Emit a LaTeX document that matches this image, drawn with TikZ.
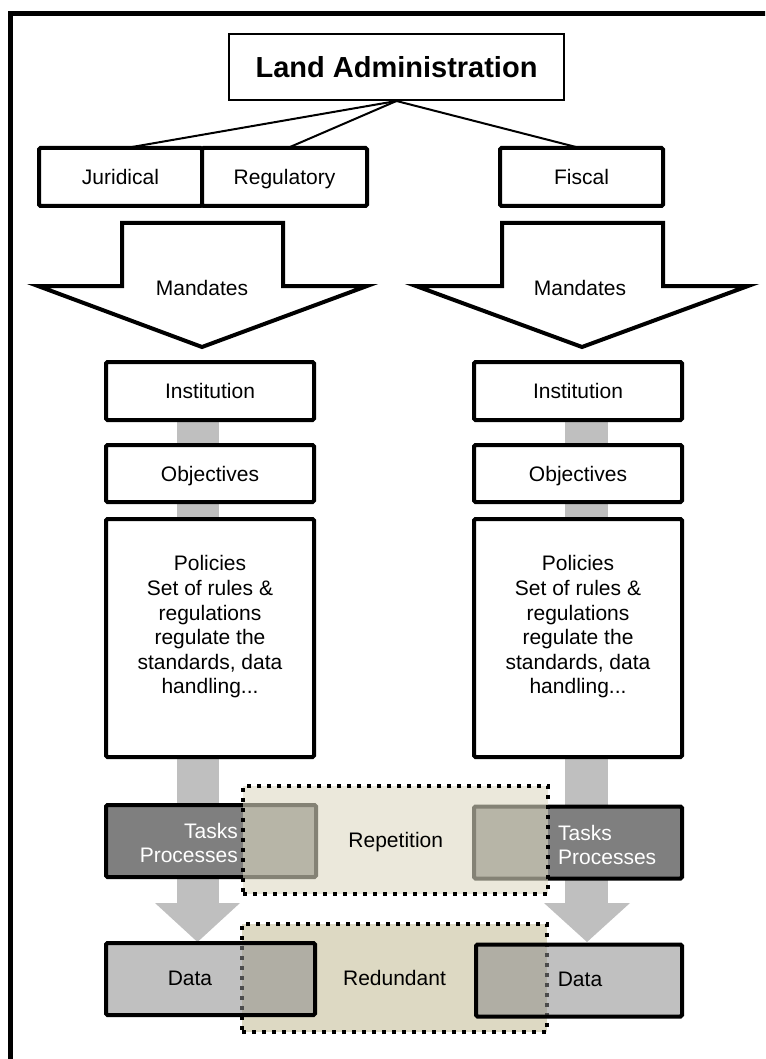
\documentclass[tikz,border=0pt]{standalone}
\usepackage{fontspec}
\setmainfont{Liberation Sans}
\definecolor{arrowgray}{HTML}{BFBFBF}
\definecolor{taskgray}{HTML}{7F7F7F}
\definecolor{tan}{HTML}{DDD9C3}
\definecolor{datagray}{HTML}{8C8C8C}
\begin{document}
\begin{tikzpicture}[x=1pt,y=-1pt,
  bodyfont/.style={font=\fontsize{21}{24.6}\selectfont},
  oneline/.style={text height=15.3pt, text depth=0pt},
  wbox/.style={draw, line width=4pt, fill=white, inner sep=0pt, rounded corners=1.5pt,
    minimum width=208pt, minimum height=58pt, align=center, bodyfont, oneline},
  topbox/.style={wbox, minimum width=164pt},
  taskbox/.style={draw, line width=4pt, fill=taskgray, inner sep=0pt, rounded corners=1.5pt,
    minimum width=209pt, minimum height=72pt},
  databox/.style={draw, line width=4pt, fill=datagray, fill opacity=0.55, draw opacity=1,
    inner sep=0pt, rounded corners=1.5pt, minimum width=208pt, minimum height=72pt},
  overlay/.style={draw, line width=4pt, dash pattern=on 4pt off 6pt, inner sep=0pt,
    minimum width=305pt, minimum height=108pt},
  conn/.style={line width=2pt},
  mandate/.style={draw, line width=4pt, fill=white, line join=miter},
  label/.style={inner sep=0pt, bodyfont},
]
\useasboundingbox (0,0) rectangle (765,1059);
\begin{scope}
\clip (0,0) rectangle (765,1059);
\draw[line width=5pt] (10.5,1100) -- (10.5,13.5) -- (800,13.5);
\end{scope}

% top level
\node[draw, line width=2pt, inner sep=0pt, minimum width=335pt, minimum height=66pt,
  font=\fontsize{29}{32}\selectfont\bfseries, text height=21pt, text depth=0pt] (la) at (396.5,67) {Land Administration};
\node[topbox, minimum width=163pt] (jur) at (120.5,177) {Juridical};
\node[topbox, minimum width=165pt] (reg) at (284.5,177) {Regulatory};
\node[topbox, minimum width=163pt] (fis) at (581.5,177) {Fiscal};
\coordinate (jurtop) at (132,147);
\coordinate (regtop) at (290,147);
\coordinate (fistop) at (576,147);
\draw[conn] (la.south) -- (jurtop);
\draw[conn] (la.south) -- (regtop);
\draw[conn] (la.south) -- (fistop);

% mandates arrows
\draw[mandate] (122,223) -- (283,223) -- (283,286) -- (367,286) -- (202,347)
  -- (38,286) -- (122,286) -- cycle;
\draw[mandate] (502,223) -- (663,223) -- (663,286) -- (748,286) -- (582,347)
  -- (416,286) -- (502,286) -- cycle;
\node[label, oneline] (manL) at (202,288) {Mandates};
\node[label, oneline] (manR) at (580,288) {Mandates};

% gray flow arrows
\fill[arrowgray] (176.5,418) rectangle (218.5,903);
\fill[arrowgray] (155,903) -- (240,903) -- (197.5,942) -- cycle;
\fill[arrowgray] (565,418) rectangle (608,903);
\fill[arrowgray] (544,903) -- (630,903) -- (587,942) -- cycle;

% institution column boxes
\node[wbox] (instL) at (210,391) {Institution};
\node[wbox] (instR) at (578,391) {Institution};
\node[wbox, minimum height=57pt] (objL) at (210,473.5) {Objectives};
\node[wbox, minimum height=57pt] (objR) at (578,473.5) {Objectives};
\node[wbox, minimum height=238pt] (polL) at (210,638) {};
\node[wbox, minimum height=238pt] (polR) at (578,638) {};
\node[label, align=center] (polLt) at (210,627) {Policies\\Set of rules \&\\regulations\\regulate the\\standards, data\\handling...};
\node[label, align=center] (polRt) at (578,627) {Policies\\Set of rules \&\\regulations\\regulate the\\standards, data\\handling...};

% tasks row
\node[taskbox, minimum width=210pt] (taskL) at (211,841) {};
\node[taskbox, minimum width=208pt] (taskR) at (578,842.5) {};
\node[overlay, fill=tan, fill opacity=0.6, draw opacity=1] (rep) at (395.75,840) {};
\node[label, oneline] (repT) at (395.75,840) {Repetition};
\node[label, align=right, anchor=east, text=white] (taskLt) at (238,843) {Tasks\\Processes};
\node[label, align=left, anchor=west, text=white] (taskRt) at (558,845) {Tasks\\Processes};

% data row
\node[overlay, fill=tan] (red) at (394.5,978) {};
\node[databox, minimum width=209pt] (dataL) at (210.5,979) {};
\node[databox, minimum width=206pt] (dataR) at (579,980.5) {};
\node[label, oneline] (redT) at (394.5,978) {Redundant};
\node[label, oneline] (dataLt) at (190,978) {Data};
\node[label, oneline] (dataRt) at (580,979) {Data};
\end{tikzpicture}
\end{document}
